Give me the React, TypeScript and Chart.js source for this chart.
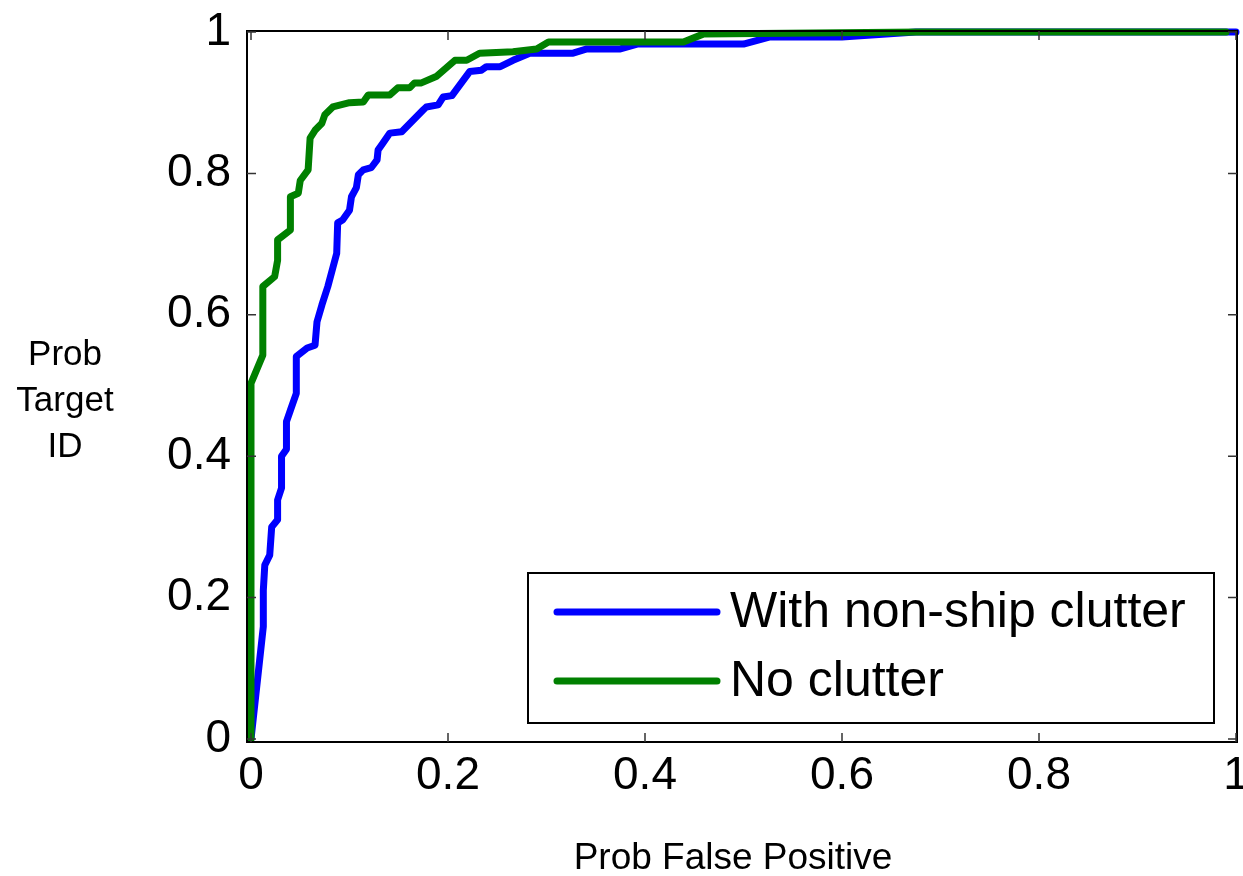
import React, { useEffect, useRef } from "react";
import { Chart, registerables } from "chart.js";

Chart.register(...registerables);

const seriesLabels = ["With non-ship clutter", "No clutter"];
const seriesColors = ["#0000ff", "#008000"];

const clutterFpr = [
  0, 0.0125, 0.0125, 0.014, 0.019, 0.021, 0.027, 0.027, 0.031, 0.031, 0.036, 0.036, 0.04, 0.046, 0.046,
  0.057, 0.065, 0.067, 0.072, 0.078, 0.083, 0.087, 0.088, 0.093, 0.1, 0.102, 0.107, 0.109, 0.114, 0.122,
  0.128, 0.129, 0.134, 0.141, 0.153, 0.175, 0.178, 0.19, 0.195, 0.204, 0.222, 0.234, 0.239, 0.253, 0.266,
  0.283, 0.327, 0.341, 0.375, 0.392, 0.5, 0.527, 0.6, 0.675, 1.0,
];
const clutterTpr = [
  0, 0.159, 0.21, 0.246, 0.26, 0.3, 0.31, 0.338, 0.355, 0.4, 0.41, 0.449, 0.465, 0.489, 0.541,
  0.553, 0.557, 0.59, 0.614, 0.64, 0.666, 0.687, 0.73, 0.734, 0.748, 0.767, 0.78, 0.798, 0.805, 0.808,
  0.819, 0.833, 0.843, 0.857, 0.859, 0.89, 0.894, 0.897, 0.908, 0.91, 0.944, 0.946, 0.951, 0.951, 0.96,
  0.97, 0.97, 0.976, 0.976, 0.983, 0.983, 0.993, 0.993, 1.0, 1.0,
];

const noClutterFpr = [
  0, 0, 0.012, 0.012, 0.024, 0.027, 0.027, 0.04, 0.04, 0.048, 0.05, 0.058, 0.06, 0.065, 0.072, 0.075,
  0.083, 0.1, 0.114, 0.119, 0.141, 0.149, 0.161, 0.166, 0.173, 0.188, 0.207, 0.219, 0.232, 0.266, 0.29,
  0.302, 0.439, 0.459, 0.68, 0.99,
];
const noClutterTpr = [
  0, 0.503, 0.543, 0.64, 0.654, 0.677, 0.706, 0.72, 0.767, 0.772, 0.79, 0.805, 0.85, 0.861, 0.871, 0.883,
  0.894, 0.9, 0.901, 0.911, 0.911, 0.921, 0.921, 0.928, 0.928, 0.937, 0.96, 0.96, 0.97, 0.972, 0.976,
  0.986, 0.986, 0.997, 1.0, 1.0,
];

const tickValues = [0, 0.2, 0.4, 0.6, 0.8, 1];
const xTickLabels = ["0", "0.2", "0.4", "0.6", "0.8", "1"];
const yTickLabels = ["0", "0.2", "0.4", "0.6", "0.8", "1"];
const xTitle = "Prob False Positive";
const yTitleLines = ["Prob", "Target", "ID"];

const FONT = "'Liberation Sans', Arial, Helvetica, sans-serif";

const zip = (xs: number[], ys: number[]) => xs.map((x, i) => ({ x, y: ys[i] }));

const framePlugin = {
  id: "matlabFrame",
  afterDatasetsDraw(chart: any) {
    const { ctx, chartArea } = chart;
    const xs = chart.scales.x;
    const ys = chart.scales.y;
    const L = chartArea.left - 4;
    const T = chartArea.top - 1;
    const R = chartArea.right + 1;
    const B = chartArea.bottom + 3;
    ctx.save();
    ctx.strokeStyle = "#000";
    ctx.lineWidth = 2;
    ctx.strokeRect(L, T, R - L, B - T);
    ctx.strokeStyle = "#333";
    ctx.lineWidth = 1.5;
    const tl = 9;
    ctx.beginPath();
    tickValues.forEach((v) => {
      const px = xs.getPixelForValue(v);
      ctx.moveTo(px, B);
      ctx.lineTo(px, B - tl);
      ctx.moveTo(px, T);
      ctx.lineTo(px, T + tl);
      const py = ys.getPixelForValue(v);
      ctx.moveTo(L, py);
      ctx.lineTo(L + tl, py);
      ctx.moveTo(R, py);
      ctx.lineTo(R - tl, py);
    });
    ctx.stroke();

    ctx.fillStyle = "#000";
    ctx.textAlign = "center";
    ctx.textBaseline = "middle";

    // x-axis title
    ctx.font = `37px ${FONT}`;
    ctx.fillText(xTitle, 733, 859);

    // y-axis title (horizontal, multi-line)
    ctx.font = `35px ${FONT}`;
    const cx = 65;
    const startY = 355;
    const gap = 46;
    yTitleLines.forEach((line, i) => ctx.fillText(line, cx, startY + i * gap));
    ctx.restore();
  },
  afterDraw(chart: any) {
    const { ctx } = chart;
    const bx = 528, by = 573, bw = 686, bh = 150;
    ctx.save();
    ctx.fillStyle = "#fff";
    ctx.fillRect(bx, by, bw, bh);
    ctx.strokeStyle = "#000";
    ctx.lineWidth = 2;
    ctx.strokeRect(bx, by, bw, bh);
    const rows = [612, 681];
    chart.data.datasets.forEach((ds: any, i: number) => {
      const y = rows[i];
      ctx.strokeStyle = ds.borderColor;
      ctx.lineWidth = 7;
      ctx.lineCap = "round";
      ctx.beginPath();
      ctx.moveTo(557, y);
      ctx.lineTo(717, y);
      ctx.stroke();
      ctx.fillStyle = "#000";
      ctx.font = `50px ${FONT}`;
      ctx.textAlign = "left";
      ctx.textBaseline = "middle";
      ctx.fillText(ds.label, 730, y + 1);
    });
    ctx.restore();
  },
};

export default function App() {
  const ref = useRef<HTMLCanvasElement | null>(null);

  useEffect(() => {
    if (!ref.current) return;
    const tickFont = { family: FONT, size: 46, lineHeight: 1.2 };
    const chart = new Chart(ref.current, {
      type: "line",
      data: {
        datasets: [
          {
            label: seriesLabels[0],
            data: zip(clutterFpr, clutterTpr),
            borderColor: seriesColors[0],
            backgroundColor: seriesColors[0],
            borderWidth: 7,
            pointRadius: 0,
            borderJoinStyle: "round",
            borderCapStyle: "round",
            tension: 0,
            clip: 10,
            order: 1,
          },
          {
            label: seriesLabels[1],
            data: zip(noClutterFpr, noClutterTpr),
            borderColor: seriesColors[1],
            backgroundColor: seriesColors[1],
            borderWidth: 7,
            pointRadius: 0,
            borderJoinStyle: "round",
            borderCapStyle: "round",
            tension: 0,
            clip: 10,
            order: 0,
          },
        ],
      },
      options: {
        responsive: false,
        animation: false,
        layout: { padding: { top: 32, right: 7, left: 0, bottom: 0 } },
        plugins: { legend: { display: false }, tooltip: { enabled: false } },
        scales: {
          x: {
            type: "linear",
            min: 0,
            max: 1,
            afterBuildTicks: (s: any) => {
              s.ticks = tickValues.map((v) => ({ value: v }));
            },
            ticks: {
              callback: (_v: any, i: number) => xTickLabels[i],
              font: tickFont,
              color: "#000",
              padding: 10,
              maxRotation: 0,
              autoSkip: false,
            },
            grid: { display: false, drawTicks: false },
            border: { display: false },
            afterFit: (s: any) => {
              s.height = 137;
              s.paddingLeft = 0;
              s.paddingRight = 0;
            },
          },
          y: {
            type: "linear",
            min: 0,
            max: 1,
            afterBuildTicks: (s: any) => {
              s.ticks = tickValues.map((v) => ({ value: v }));
            },
            ticks: {
              callback: (_v: any, i: number) => yTickLabels[i],
              font: tickFont,
              color: "#000",
              padding: 20,
              autoSkip: false,
            },
            grid: { display: false, drawTicks: false },
            border: { display: false },
            afterFit: (s: any) => {
              s.width = 251;
              s.paddingTop = 0;
              s.paddingBottom = 0;
            },
          },
        },
      },
      plugins: [framePlugin],
    } as any);
    return () => chart.destroy();
  }, []);

  return (
    <div style={{ position: "fixed", left: 0, top: 0, width: 1243, height: 876, background: "#fff" }}>
      <canvas ref={ref} width={1243} height={876} style={{ display: "block", width: 1243, height: 876 }} />
    </div>
  );
}
